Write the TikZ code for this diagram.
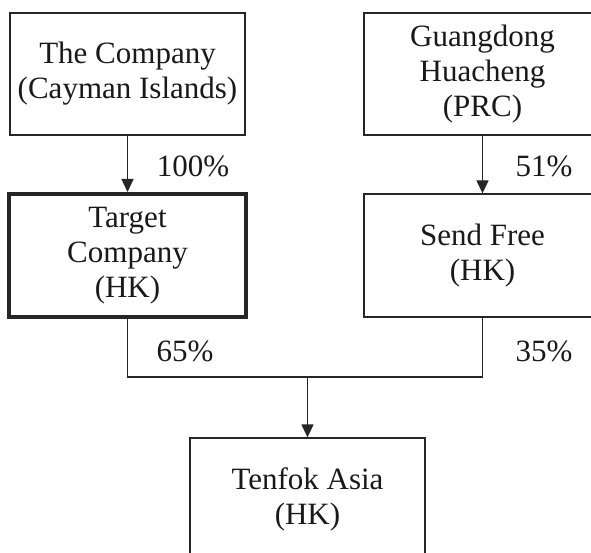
\documentclass[tikz,border=0pt]{standalone}
\usepackage{fontspec}
\setmainfont{Liberation Serif}
\usetikzlibrary{arrows.meta}
\begin{document}
\begin{tikzpicture}[x=1pt,y=-1pt,
  box/.style={draw=black!85,line width=1.3pt,minimum width=235pt,minimum height=122pt,inner sep=0pt,align=center,font=\fontsize{31}{35}\selectfont,text=black!90},
  thickbox/.style={box,line width=4pt},
  lbl/.style={font=\fontsize{31}{35}\selectfont,text=black!90,inner sep=0pt},
  conn/.style={draw=black!85,line width=1.3pt},
  arr/.style={conn,-{Triangle[width=12pt,length=13pt]}}]
\useasboundingbox (0,0) rectangle (591,553);
\clip (0,0) rectangle (591,553);
\node[box] (b1) at (127.5,74) {The Company\\(Cayman Islands)};
\node[box,minimum width=237pt] (b2) at (482.5,74) {Guangdong\\Huacheng\\(PRC)};
\node[thickbox,minimum width=237pt,minimum height=123pt] (b3) at (127.5,255.5) {Target\\Company\\(HK)};
\node[box,minimum width=237pt,minimum height=123pt] (b4) at (482.5,255.5) {Send Free\\(HK)};
\node[box] (b5) at (307.5,499) {Tenfok Asia\\(HK)};
\draw[arr] (b1.south) -- (b3.north);
\draw[arr] (b2.south) -- (b4.north);
\coordinate (jl) at (127.5,377);
\coordinate (jr) at (482.5,377);
\draw[conn] (b3.south) -- (jl) -- (jr) -- (b4.south);
\coordinate (j) at (b5.north |- jl);
\draw[arr] (j) -- (b5.north);
\node[lbl] (p1) at (193,166) {100\%};
\node[lbl] (p2) at (544,166) {51\%};
\node[lbl] (p3) at (185,351) {65\%};
\node[lbl] (p4) at (544,351) {35\%};
\end{tikzpicture}
\end{document}
